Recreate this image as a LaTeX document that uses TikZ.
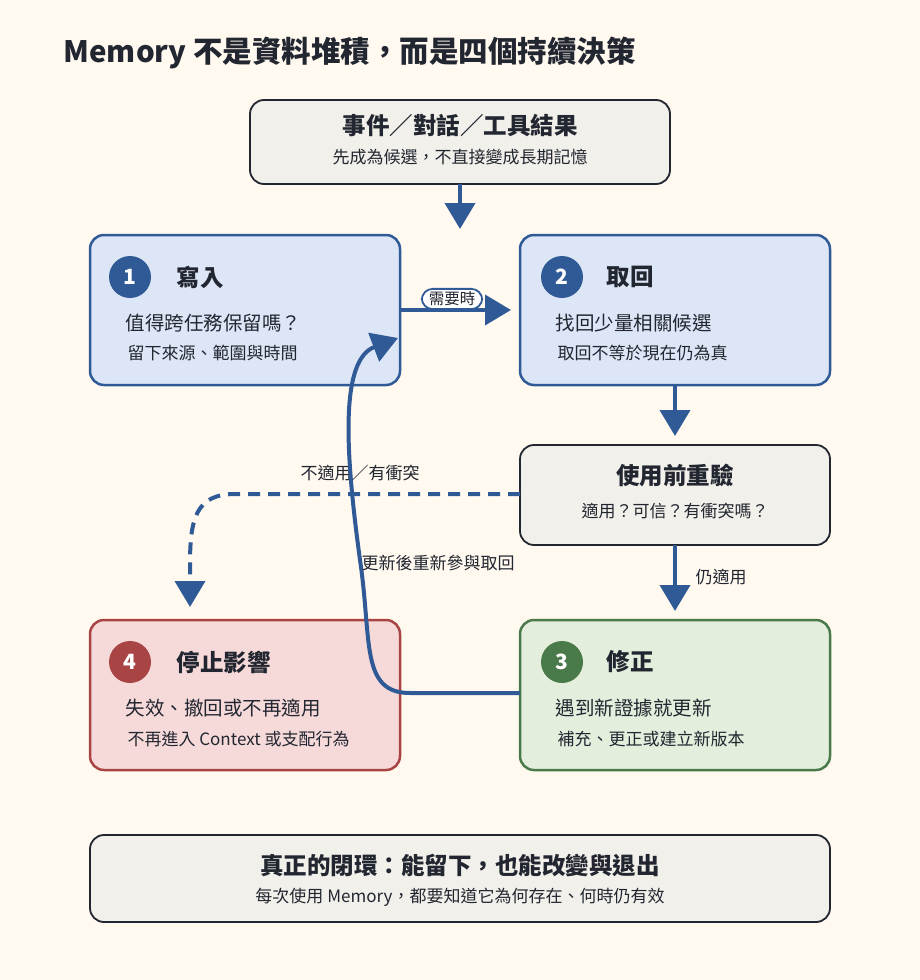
\documentclass[tikz,border=0pt]{standalone}
\usepackage{fontspec}
\setmainfont{Noto Sans CJK TC}
\usetikzlibrary{arrows.meta,positioning}
\definecolor{bgc}{HTML}{FFF9F0}
\definecolor{blueln}{HTML}{2F5A96}
\definecolor{bluefl}{HTML}{DCE6F6}
\definecolor{redln}{HTML}{A84444}
\definecolor{redfl}{HTML}{F6DADA}
\definecolor{grnln}{HTML}{4A7A4A}
\definecolor{grnfl}{HTML}{E3EEDC}
\definecolor{grayfl}{HTML}{F2F0EA}
\definecolor{ink}{HTML}{222630}
\tikzstyle{card}=[draw, line width=2.5pt, rounded corners=14pt, anchor=north west]
\tikzstyle{note}=[card, draw=ink, fill=grayfl, line width=1.8pt]
\tikzstyle{num}=[circle, minimum size=42pt, inner sep=0pt, text=white, font=\bfseries\fontsize{21}{21}\selectfont]
\tikzstyle{ttl}=[font=\bfseries\fontsize{23.5}{26}\selectfont, text=ink]
\tikzstyle{txt}=[font=\fontsize{19.5}{22}\selectfont, text=ink, anchor=west]
\tikzstyle{sml}=[font=\fontsize{17}{19}\selectfont, text=ink]
\tikzstyle{flow}=[draw=blueln, line width=4pt, -{Triangle[length=26pt,width=30pt]}]
\begin{document}
\begin{tikzpicture}[x=1pt,y=-1pt]
		\fill[bgc] (0,0) rectangle (920,980);
		\node[anchor=west, font=\bfseries\fontsize{29.5}{32}\selectfont, text=ink] (title) at (60,53) {Memory 不是資料堆積，而是四個持續決策};

		% boxes
		\draw[note] (250,100) rectangle (670,184);
		\node[ttl] (evt) at (460,126) {事件／對話／工具結果};
		\node[sml] (evts) at (460,157) {先成為候選，不直接變成長期記憶};

		\draw[card, draw=blueln, fill=bluefl] (90,235) rectangle (400,385);
		\node[num, fill=blueln] (n1) at (130,277) {1};
		\node[ttl, anchor=west] (w1) at (173,277) {寫入};
		\node[txt] at (122,323) {值得跨任務保留嗎？};
		\node[sml, anchor=west] at (124,353) {留下來源、範圍與時間};

		\draw[card, draw=blueln, fill=bluefl] (520,235) rectangle (830,385);
		\node[num, fill=blueln] (n2) at (562,277) {2};
		\node[ttl, anchor=west] (w2) at (603,277) {取回};
		\node[txt] at (552,323) {找回少量相關候選};
		\node[sml, anchor=west] at (554,353) {取回不等於現在仍為真};

		\draw[note] (520,445) rectangle (830,545);
		\node[ttl] (chk) at (675,475) {使用前重驗};
		\node[sml] (chks) at (675,511) {適用？可信？有衝突嗎？};

		\draw[card, draw=redln, fill=redfl] (90,620) rectangle (400,770);
		\node[num, fill=redln] (n4) at (130,662) {4};
		\node[ttl, anchor=west] (w4) at (173,662) {停止影響};
		\node[txt] at (122,708) {失效、撤回或不再適用};
		\node[sml, anchor=west] at (124,739) {不再進入 Context 或支配行為};

		\draw[card, draw=grnln, fill=grnfl] (520,620) rectangle (830,770);
		\node[num, fill=grnln] (n3) at (562,662) {3};
		\node[ttl, anchor=west] (w3) at (603,662) {修正};
		\node[txt] at (552,708) {遇到新證據就更新};
		\node[sml, anchor=west] at (554,739) {補充、更正或建立新版本};

		\draw[note] (90,835) rectangle (830,922);
		\node[ttl] (loop) at (460,865) {真正的閉環：能留下，也能改變與退出};
		\node[sml] at (460,897) {每次使用 Memory，都要知道它為何存在、何時仍有效};

		% connectors
		\coordinate (a0) at (460,184); \coordinate (a1) at (460,229);
		\draw[flow] (a0) -- (a1);
		\coordinate (b0) at (400,310); \coordinate (b1) at (511,310);
		\draw[flow] (b0) -- (b1);
		\node[sml, draw=blueln, line width=1.8pt, fill=white, rounded corners=11pt, inner xsep=7pt, inner ysep=3pt, font=\fontsize{15.5}{17}\selectfont] (need) at (452,299) {需要時};
		\coordinate (c0) at (675,385); \coordinate (c1) at (675,436);
		\draw[flow] (c0) -- (c1);
		\coordinate (d0) at (675,545); \coordinate (d1) at (675,611);
		\draw[flow] (d0) -- (d1);
		\node[sml, anchor=west] (still) at (692,577) {仍適用};
		\coordinate (e0) at (520,494); \coordinate (e1) at (190,607);
		\draw[flow, dashed, dash pattern=on 12pt off 8pt] (e0) -- (235,494) .. controls (195,494) and (190,520) .. (190,565) -- (e1);
		\node[sml] (nofit) at (360,473) {不適用／有衝突};
		\coordinate (f0) at (520,693); \coordinate (f1) at (398,338);
		\draw[flow] (f0) -- (410,693) .. controls (360,693) and (372,640) .. (360,560) .. controls (345,450) and (340,360) .. (f1);
		\node[sml] (upd) at (438,563) {更新後重新參與取回};
\end{tikzpicture}
\end{document}
